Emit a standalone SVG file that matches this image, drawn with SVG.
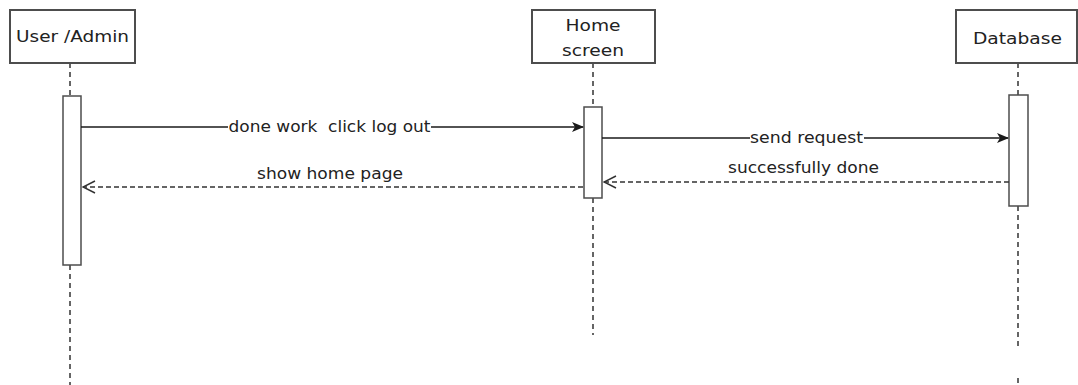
<svg xmlns="http://www.w3.org/2000/svg" width="1078" height="385" viewBox="0 0 1078 385">
  <style>
    .actor { fill: #ffffff; stroke: #4d4d4d; stroke-width: 2; }
    .act { fill: #ffffff; stroke: #4d4d4d; stroke-width: 1.5; }
    .life { stroke: #333333; stroke-width: 1.5; stroke-dasharray: 5 4; fill: none; }
    .msg { stroke: #1a1a1a; stroke-width: 1.5; fill: none; }
    .ret { stroke: #333333; stroke-width: 1.5; stroke-dasharray: 5 3; fill: none; }
    .lbl { font-family: "DejaVu Sans", Verdana, sans-serif; font-size: 15px; fill: #222222; white-space: pre; }
    .bg { fill: #ffffff; }
  </style>
  <defs>
    <marker id="block" viewBox="0 0 12 10" refX="11" refY="5" markerWidth="12" markerHeight="10" markerUnits="userSpaceOnUse" orient="auto">
      <path d="M0,0 L12,5 L0,10 L3,5 Z" fill="#1a1a1a"/>
    </marker>
    <marker id="open" viewBox="0 0 14 14" refX="13" refY="7" markerWidth="14" markerHeight="14" markerUnits="userSpaceOnUse" orient="auto">
      <path d="M1,1 L13,7 L1,13" fill="none" stroke="#333333" stroke-width="1.5"/>
    </marker>
  </defs>

  <!-- lifelines -->
  <g id="lifelines">
    <line class="life" x1="70" y1="63" x2="70" y2="96"/>
    <line class="life" x1="70" y1="265" x2="70" y2="385"/>
    <line class="life" x1="593" y1="63" x2="593" y2="107"/>
    <line class="life" x1="593" y1="198" x2="593" y2="335"/>
    <line class="life" x1="1018" y1="63" x2="1018" y2="95"/>
    <line class="life" x1="1018" y1="206" x2="1018" y2="350"/>
    <line class="life" x1="1018" y1="378" x2="1018" y2="385"/>
  </g>

  <!-- participants -->
  <g id="user-admin">
    <rect class="actor" x="10" y="10" width="125" height="53"/>
    <text class="lbl" x="72.5" y="42" text-anchor="middle" textLength="113" lengthAdjust="spacingAndGlyphs">User /Admin</text>
    <rect class="act" x="63" y="96" width="18" height="169"/>
  </g>
  <g id="home-screen">
    <rect class="actor" x="532" y="10" width="123" height="53"/>
    <text class="lbl" x="593" y="31" text-anchor="middle" textLength="55" lengthAdjust="spacingAndGlyphs">Home</text>
    <text class="lbl" x="593" y="56" text-anchor="middle" textLength="62" lengthAdjust="spacingAndGlyphs">screen</text>
    <rect class="act" x="584" y="107" width="18" height="91"/>
  </g>
  <g id="database">
    <rect class="actor" x="956" y="10" width="121" height="53"/>
    <text class="lbl" x="1017.5" y="44" text-anchor="middle" textLength="89" lengthAdjust="spacingAndGlyphs">Database</text>
    <rect class="act" x="1009" y="95" width="19" height="111"/>
  </g>

  <!-- messages -->
  <g id="connectors">
    <line class="msg" x1="81" y1="127" x2="583" y2="127" marker-end="url(#block)"/>
    <rect class="bg" x="228" y="118" width="203" height="18"/>
    <text class="lbl" x="329.5" y="132" text-anchor="middle" textLength="202" lengthAdjust="spacingAndGlyphs">done work  click log out</text>

    <line class="msg" x1="602" y1="138" x2="1008" y2="138" marker-end="url(#block)"/>
    <rect class="bg" x="750" y="129" width="114" height="18"/>
    <text class="lbl" x="806.5" y="143" text-anchor="middle" textLength="113" lengthAdjust="spacingAndGlyphs">send request</text>

    <line class="ret" x1="1009" y1="182" x2="604" y2="182" marker-end="url(#open)"/>
    <text class="lbl" x="803.5" y="173" text-anchor="middle" textLength="151" lengthAdjust="spacingAndGlyphs">successfully done</text>

    <line class="ret" x1="583" y1="187" x2="83" y2="187" marker-end="url(#open)"/>
    <text class="lbl" x="330" y="179" text-anchor="middle" textLength="146" lengthAdjust="spacingAndGlyphs">show home page</text>
  </g>
</svg>
